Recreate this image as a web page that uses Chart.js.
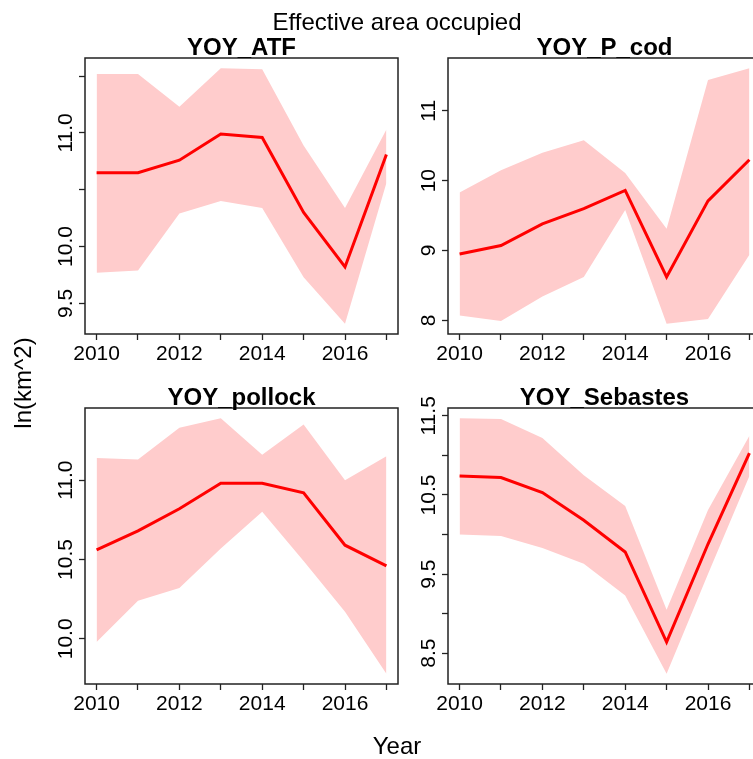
<!DOCTYPE html>
<html>
<head>
<meta charset="utf-8">
<script src="https://cdn.jsdelivr.net/npm/chart.js@4.4.0/dist/chart.umd.min.js"></script>
<style>
  body { margin: 0; overflow: hidden; background: #fff; font-family: "Liberation Sans", Arial, sans-serif; }
  #fig { position: relative; width: 800px; height: 759px; overflow: hidden; }
  canvas { position: absolute; }
  .lbl { position: absolute; font-size: 24px; line-height: 24px; white-space: nowrap; text-align: center; color: #000; }
</style>
</head>
<body>
<div id="fig">
  <canvas id="atf" width="403" height="376" style="left:5px; top:8px; width:403px; height:376px;"></canvas>
  <canvas id="pcod" width="403" height="376" style="left:368px; top:8px; width:403px; height:376px;"></canvas>
  <canvas id="pollock" width="403" height="376" style="left:5px; top:358px; width:403px; height:376px;"></canvas>
  <canvas id="seb" width="403" height="376" style="left:368px; top:358px; width:403px; height:376px;"></canvas>
  <div class="lbl" style="left:247px; top:10px; width:300px;">Effective area occupied</div>
  <div class="lbl" style="left:-77px; top:371px; width:200px; transform: rotate(-90deg);">ln(km^2)</div>
  <div class="lbl" style="left:347px; top:734px; width:100px;">Year</div>
</div>
<script>
const years = [2010, 2011, 2012, 2013, 2014, 2015, 2016, 2017];
const xTickLabels = ['2010', '', '2012', '', '2014', '', '2016', ''];

// YOY_ATF
const atfMean  = [10.65, 10.65, 10.76, 10.99, 10.96, 10.30, 9.82, 10.81];
const atfUpper = [11.52, 11.52, 11.23, 11.57, 11.56, 10.89, 10.34, 11.03];
const atfLower = [9.77, 9.79, 10.29, 10.40, 10.34, 9.73, 9.32, 10.56];
const atfTicks = [9.5, 10, 10.5, 11, 11.5];
const atfTickLabels = ['9.5', '10.0', '', '11.0', ''];

// YOY_P_cod
const pcodMean  = [8.95, 9.07, 9.38, 9.60, 9.86, 8.62, 9.71, 10.30];
const pcodUpper = [9.83, 10.15, 10.40, 10.58, 10.11, 9.31, 11.44, 11.61];
const pcodLower = [8.07, 7.99, 8.34, 8.62, 9.58, 7.95, 8.02, 8.94];
const pcodTicks = [8, 9, 10, 11];
const pcodTickLabels = ['8', '9', '10', '11'];

// YOY_pollock
const pollockMean  = [10.56, 10.68, 10.82, 10.98, 10.98, 10.92, 10.59, 10.46];
const pollockUpper = [11.14, 11.13, 11.33, 11.39, 11.16, 11.35, 11.00, 11.15];
const pollockLower = [9.98, 10.24, 10.32, 10.57, 10.80, 10.49, 10.17, 9.78];
const pollockTicks = [10, 10.5, 11];
const pollockTickLabels = ['10.0', '10.5', '11.0'];

// YOY_Sebastes
const sebMean  = [10.74, 10.72, 10.53, 10.18, 9.78, 8.64, 9.88, 11.03];
const sebUpper = [11.47, 11.46, 11.22, 10.75, 10.36, 9.05, 10.31, 11.25];
const sebLower = [10.00, 9.98, 9.83, 9.63, 9.23, 8.24, 9.50, 10.74];
const sebTicks = [8.5, 9, 9.5, 10, 10.5, 11, 11.5];
const sebTickLabels = ['8.5', '', '9.5', '', '10.5', '', '11.5'];

const FONT = '"Liberation Sans", Arial, sans-serif';
const AXIS_COLOR = '#222';

// box, panel title and rotated y tick labels (R style)
const panelPlugin = {
    id: 'panel',
    afterDraw(chart, args, opts) {
        const { ctx, chartArea: a } = chart;
        const y = chart.scales.y;
        ctx.save();
        ctx.strokeStyle = AXIS_COLOR;
        ctx.lineWidth = 1.5;
        ctx.strokeRect(a.left, a.top, a.right - a.left, a.bottom - a.top);
        ctx.fillStyle = '#000';
        ctx.font = 'bold 24px ' + FONT;
        ctx.textAlign = 'center';
        ctx.textBaseline = 'alphabetic';
        ctx.fillText(opts.title, (a.left + a.right) / 2, a.top - 3);
        ctx.font = '21px ' + FONT;
        ctx.textBaseline = 'middle';
        opts.ticks.forEach((v, i) => {
            if (!opts.labels[i]) return;
            ctx.save();
            ctx.translate(a.left - 18.3, y.getPixelForValue(v));
            ctx.rotate(-Math.PI / 2);
            ctx.fillText(opts.labels[i], 0, 0);
            ctx.restore();
        });
        ctx.restore();
    }
};

function toPoints(values) {
    return values.map((v, i) => ({ x: years[i], y: v }));
}

function makePanel(id, title, mean, upper, lower, yTicks, yTickLabels) {
    const lo = Math.min(...lower);
    const hi = Math.max(...upper);
    const ypad = (hi - lo) * 0.04;
    const xpad = (years[years.length - 1] - years[0]) * 0.04;

    return new Chart(document.getElementById(id), {
        type: 'line',
        data: {
            datasets: [
                { data: toPoints(mean), borderColor: '#ff0000', borderWidth: 3, pointRadius: 0, fill: false, tension: 0 },
                { data: toPoints(upper), borderWidth: 0, borderColor: 'rgba(0,0,0,0)', pointRadius: 0, fill: '+1', backgroundColor: '#ffcccc' },
                { data: toPoints(lower), borderWidth: 0, borderColor: 'rgba(0,0,0,0)', pointRadius: 0, fill: false }
            ]
        },
        options: {
            responsive: false,
            animation: false,
            devicePixelRatio: 1,
            layout: { padding: { top: 50, right: 10, bottom: 0, left: 0 } },
            scales: {
                x: {
                    type: 'linear',
                    min: years[0] - xpad,
                    max: years[years.length - 1] + xpad,
                    afterBuildTicks: (scale) => { scale.ticks = years.map(v => ({ value: v })); },
                    afterFit: (scale) => {
                        scale.height = 50;
                        scale.paddingLeft = scale.paddingRight = scale.paddingTop = scale.paddingBottom = 0;
                    },
                    border: { display: false },
                    grid: { drawOnChartArea: false, drawTicks: true, tickLength: 6, tickColor: AXIS_COLOR, tickWidth: 1.3 },
                    ticks: {
                        color: '#000',
                        padding: 2,
                        maxRotation: 0,
                        autoSkip: false,
                        font: { family: FONT, size: 21 },
                        callback: (v) => xTickLabels[years.indexOf(v)] || ''
                    }
                },
                y: {
                    min: lo - ypad,
                    max: hi + ypad,
                    afterBuildTicks: (scale) => { scale.ticks = yTicks.map(v => ({ value: v })); },
                    afterFit: (scale) => {
                        scale.width = 80;
                        scale.paddingLeft = scale.paddingRight = scale.paddingTop = scale.paddingBottom = 0;
                    },
                    border: { display: false },
                    grid: { drawOnChartArea: false, drawTicks: true, tickLength: 6, tickColor: AXIS_COLOR, tickWidth: 1.3 },
                    ticks: { display: false }
                }
            },
            plugins: {
                legend: { display: false },
                tooltip: { enabled: false },
                panel: { title: title, ticks: yTicks, labels: yTickLabels }
            }
        },
        plugins: [panelPlugin]
    });
}

makePanel('atf', 'YOY_ATF', atfMean, atfUpper, atfLower, atfTicks, atfTickLabels);
makePanel('pcod', 'YOY_P_cod', pcodMean, pcodUpper, pcodLower, pcodTicks, pcodTickLabels);
makePanel('pollock', 'YOY_pollock', pollockMean, pollockUpper, pollockLower, pollockTicks, pollockTickLabels);
makePanel('seb', 'YOY_Sebastes', sebMean, sebUpper, sebLower, sebTicks, sebTickLabels);
</script>
</body>
</html>
